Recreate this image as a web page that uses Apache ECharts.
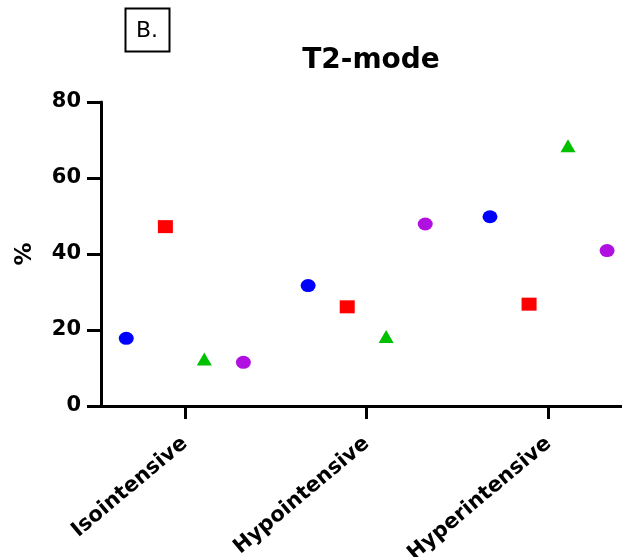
<!DOCTYPE html>
<html><head><meta charset="utf-8">
<script src="https://cdn.jsdelivr.net/npm/echarts@6/dist/echarts.min.js"></script>
<style>html,body{margin:0;padding:0;background:#fff}#c{width:622px;height:557px}</style>
</head><body><div id="c"></div>
<script>
const categories = ['Isointensive', 'Hypointensive', 'Hyperintensive'];
const seriesNames = ['S1', 'S2', 'S3', 'S4'];
const blueValues = [17.8, 31.7, 49.8];
const redValues = [47.2, 26.1, 26.8];
const greenValues = [12.4, 18.3, 68.5];
const purpleValues = [11.5, 47.9, 40.9];
const yTicks = [0, 20, 40, 60, 80];

const seriesValues = [blueValues, redValues, greenValues, purpleValues];
const colors = ['#0000ff', '#ff0000', '#00c000', '#b010e0'];
const symbols = ['circle', 'rect', 'triangle', 'circle'];
const offsets = [-0.322, -0.107, 0.107, 0.322];
const FONT = '"DejaVu Sans", sans-serif';

const chart = echarts.init(document.getElementById('c'));
chart.setOption({
  animation: false,
  title: {
    text: 'T2-mode', left: 366, top: 42, textAlign: 'center',
    textStyle: {fontFamily: FONT, fontWeight: 'bold', fontSize: 28, color: '#000'}
  },
  graphic: [
    {type: 'rect', shape: {x: 125.5, y: 8.5, width: 44, height: 43}, style: {fill: '#fff', stroke: '#000', lineWidth: 2}},
    {type: 'text', x: 147, y: 31, style: {text: 'B.', font: '22px ' + FONT, fill: '#000', align: 'center', verticalAlign: 'middle'}}
  ],
  grid: {left: 101, right: 0, top: 102, bottom: 151, outerBoundsMode: 'none', containLabel: false},
  xAxis: {
    type: 'value', min: -0.461, max: 2.404,
    splitLine: {show: false},
    axisLine: {show: true, onZero: false, lineStyle: {color: '#000', width: 3}},
    axisTick: {show: true, customValues: [0, 1, 2], length: 13, lineStyle: {color: '#000', width: 3}},
    axisLabel: {
      customValues: [0, 1, 2], rotate: 40, margin: 35,
      formatter: v => categories[Math.round(v)] || '',
      fontFamily: FONT, fontWeight: 'bold', fontSize: 21, color: '#000'
    }
  },
  yAxis: {
    type: 'value', min: yTicks[0], max: yTicks[yTicks.length - 1], interval: 20,
    name: '%', nameLocation: 'middle', nameGap: 64, nameRotate: 90,
    nameTextStyle: {fontFamily: FONT, fontWeight: 'bold', fontSize: 23, color: '#000'},
    splitLine: {show: false},
    axisLine: {show: true, onZero: false, lineStyle: {color: '#000', width: 3}},
    axisTick: {show: true, length: 14, lineStyle: {color: '#000', width: 3}},
    axisLabel: {margin: 20, fontFamily: FONT, fontWeight: 'bold', fontSize: 21, color: '#000'}
  },
  series: seriesValues.map((vals, s) => ({
    type: 'scatter', name: seriesNames[s],
    symbol: symbols[s], symbolSize: [15, 13],
    itemStyle: {color: colors[s], opacity: 1},
    data: vals.map((v, i) => [i + offsets[s], v])
  }))
});
</script></body></html>
